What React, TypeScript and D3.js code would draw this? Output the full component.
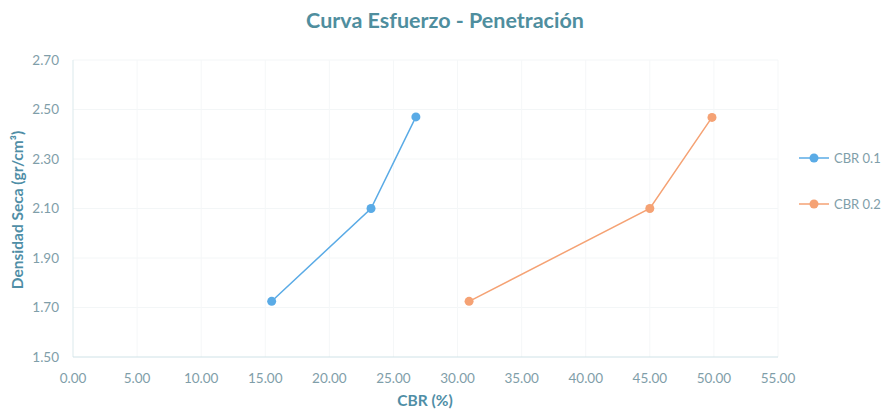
import React from "react";
import * as d3 from "d3";

const seriesNames = ["CBR 0.1", "CBR 0.2"];
const cbr01X = [15.5, 23.25, 26.75];
const cbr01Y = [1.725, 2.1, 2.47];
const cbr02X = [30.9, 45.0, 49.85];
const cbr02Y = [1.725, 2.1, 2.468];
const xTicks = [0, 5, 10, 15, 20, 25, 30, 35, 40, 45, 50, 55];
const yTicks = [1.5, 1.7, 1.9, 2.1, 2.3, 2.5, 2.7];
const colors = ["#5aabe6", "#f5a274"];

const W = 882, H = 414;
const M = { left: 73, right: 104, top: 60, bottom: 57 };

export default function App() {
  const x = d3.scaleLinear().domain([0, 55]).range([M.left, W - M.right]);
  const y = d3.scaleLinear().domain([1.5, 2.7]).range([H - M.bottom, M.top]);
  const line = d3.line<[number, number]>().x(d => x(d[0])).y(d => y(d[1]));
  const series = [
    cbr01X.map((v, i) => [v, cbr01Y[i]] as [number, number]),
    cbr02X.map((v, i) => [v, cbr02Y[i]] as [number, number]),
  ];
  const font = "Lato, 'Open Sans', sans-serif";
  const tickColor = "#7f9ea9";
  return (
    <svg width={W} height={H} style={{ position: "absolute", left: 0, top: 0, background: "#fff" }} fontFamily={font}>
      <rect width={W} height={H} fill="#fff" />
      <text x={445} y={28} textAnchor="middle" fontSize={21.5} fontWeight="bold" fill="#4f8e9e">Curva Esfuerzo - Penetración</text>
      {yTicks.map(t => (
        <g key={"y" + t}>
          {t > 1.5 && <line x1={x(0)} x2={x(55)} y1={y(t)} y2={y(t)} stroke="#f3f6f7" />}
          <text x={59} y={y(t) + 4.5} textAnchor="end" fontSize={13.5} fill={tickColor}>{d3.format(".2f")(t)}</text>
        </g>
      ))}
      {xTicks.map(t => (
        <g key={"x" + t}>
          {t > 0 && <line x1={x(t)} x2={x(t)} y1={y(1.5)} y2={y(2.7)} stroke="#f5f7f8" />}
          <text x={x(t)} y={383} textAnchor="middle" fontSize={13.5} fill={tickColor}>{d3.format(".2f")(t)}</text>
        </g>
      ))}
      <line x1={x(0)} x2={x(0)} y1={y(1.5)} y2={y(2.7)} stroke="#dbe9ec" />
      <line x1={x(0)} x2={x(55)} y1={y(1.5)} y2={y(1.5)} stroke="#cfe2e7" />
      <text transform={`translate(23,210) rotate(-90)`} textAnchor="middle" fontSize={15.5} fontWeight="bold" fill="#4f8ea6">Densidad Seca (gr/cm³)</text>
      <text x={425} y={406} textAnchor="middle" fontSize={15.5} fontWeight="bold" fill="#4f8ea6">CBR (%)</text>
      {series.map((s, i) => (
        <g key={i}>
          <path d={line(s) || ""} fill="none" stroke={colors[i]} strokeWidth={1.5} />
          {s.map((d, j) => <circle key={j} cx={x(d[0])} cy={y(d[1])} r={4.5} fill={colors[i]} />)}
        </g>
      ))}
      {seriesNames.map((n, i) => {
        const ly = 158 + i * 46;
        return (
          <g key={n}>
            <line x1={799} x2={829} y1={ly} y2={ly} stroke={colors[i]} strokeWidth={1.5} />
            <circle cx={814} cy={ly} r={4.5} fill={colors[i]} />
            <text x={834} y={ly + 4.5} fontSize={13} fill={tickColor}>{n}</text>
          </g>
        );
      })}
    </svg>
  );
}
